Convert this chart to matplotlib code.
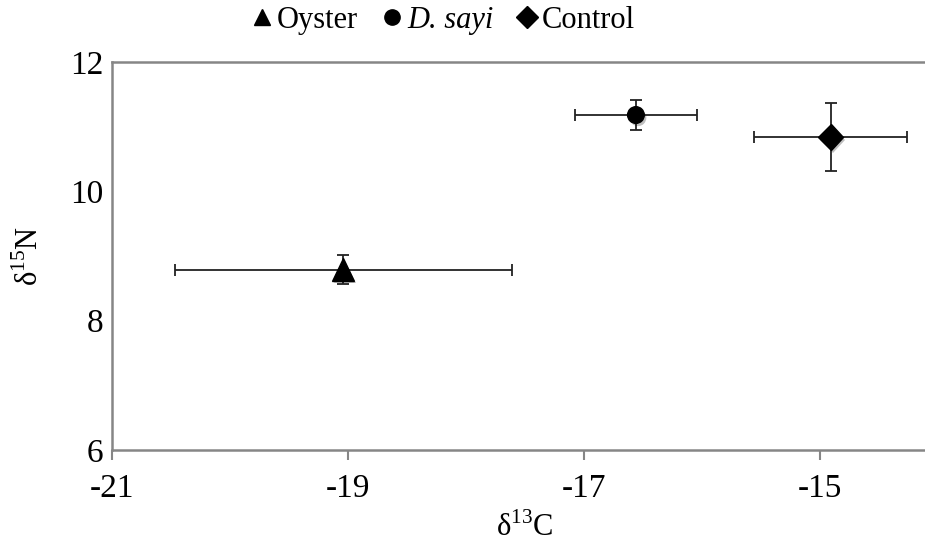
import matplotlib.pyplot as plt
from matplotlib.lines import Line2D
import matplotlib.patheffects as pe

plt.rcParams['font.family'] = ['Liberation Serif', 'DejaVu Serif']
plt.rcParams['mathtext.fontset'] = 'custom'
plt.rcParams['mathtext.rm'] = 'Liberation Serif'
plt.rcParams['axes.unicode_minus'] = False

# data
groups = ['Oyster', 'D. sayi', 'Control']
d13c = [-19.04, -16.56, -14.91]
d13c_err = [1.43, 0.52, 0.65]
d15n = [8.79, 11.18, 10.84]
d15n_err = [0.22, 0.23, 0.52]
markers = ['^', 'o', 'D']
msizes = [16, 12, 13]
x_ticks = [-21, -19, -17, -15]
y_ticks = [6, 8, 10, 12]

fig = plt.figure(figsize=(9.25, 5.46), dpi=100)
ax = fig.add_axes([112 / 925, 96 / 546, 826 / 925, 388 / 546])

shadow = [pe.SimplePatchShadow(offset=(1.5, -2), alpha=0.25), pe.Normal()]

for i in range(len(groups)):
    ax.errorbar(d13c[i], d15n[i], xerr=d13c_err[i], yerr=d15n_err[i],
                fmt='none', ecolor='#222222', elinewidth=1.3, capsize=4.5,
                capthick=1.3, zorder=2)
    ax.plot(d13c[i], d15n[i], marker=markers[i], markersize=msizes[i],
            color='black', linestyle='none', zorder=3, path_effects=shadow)

ax.set_xlim(-21, -14)
ax.set_ylim(6, 12)
ax.set_xticks(x_ticks)
ax.set_yticks(y_ticks)
ax.tick_params(axis='x', direction='out', length=7, width=1.5, color='#868686',
               labelsize=24, pad=10)
ax.tick_params(axis='y', length=0, labelsize=24, pad=6)

for side in ['left', 'bottom', 'top']:
    ax.spines[side].set_color('#868686')
    ax.spines[side].set_linewidth(1.8)
ax.spines['right'].set_visible(False)

ax.set_xlabel(r'δ$^{13}$C', fontsize=22, labelpad=6)
ax.set_ylabel(r'δ$^{15}$N', fontsize=22, labelpad=18)

handles = [Line2D([], [], marker=m, color='black', linestyle='none', markersize=s)
           for m, s in zip(markers, [12, 11, 11])]
leg = fig.legend(handles, groups, loc='center', bbox_to_anchor=(0.479, 0.963),
                 ncol=3, frameon=False, fontsize=22, handlelength=0.7,
                 handletextpad=0.15, columnspacing=0.75, borderaxespad=0)
leg.get_texts()[1].set_fontstyle('italic')

fig.savefig('out.png', dpi=100)
